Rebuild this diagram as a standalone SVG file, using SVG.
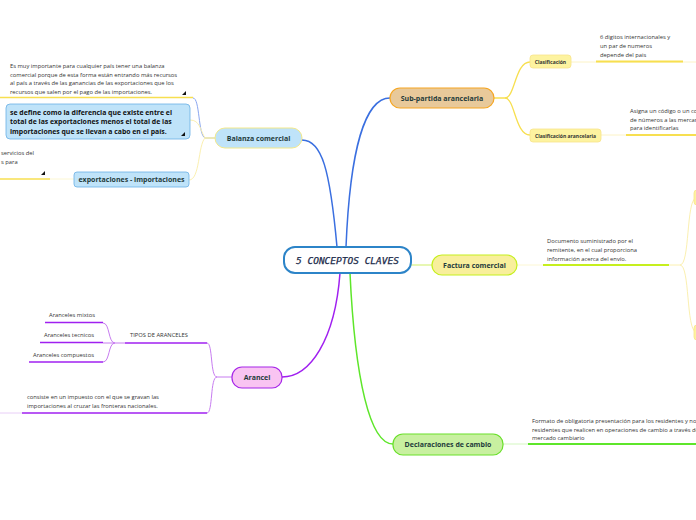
<svg xmlns="http://www.w3.org/2000/svg" width="696" height="520" viewBox="0 0 696 520">
<defs>
<style>
.sm{font-family:"Open Sans","Noto Sans",sans-serif;font-size:5.8px;fill:#333}
.lbl{font-family:"Open Sans","Noto Sans",sans-serif;font-size:7px;font-weight:bold;fill:#1f3b3b;text-anchor:middle}
.lbls{font-family:"Open Sans","Noto Sans",sans-serif;font-size:5px;font-weight:bold;fill:#333;text-anchor:middle}
.bx{font-family:"Open Sans","Noto Sans",sans-serif;font-size:6.9px;font-weight:bold;fill:#111}
.c{fill:none}
.tri{fill:#111}
</style>
</defs>
<rect width="696" height="520" fill="#fff"/>
<g id="connectors" class="c">
<path d="M346,247 C350,150 365,98 390,98" stroke="#3a6fe0" stroke-width="1.5"/>
<path d="M337,247 C330,170 322,140 302,140" stroke="#3a6fe0" stroke-width="1.5"/>
<path d="M411,265 L432,265" stroke="#dff59a" stroke-width="1.5"/>
<path d="M340,273 C335,340 310,377 282,377" stroke="#a020f0" stroke-width="1.5"/>
<path d="M350,273 C355,380 370,444 393,444" stroke="#5ee62a" stroke-width="1.5"/>
<path d="M494,98 L505,98 C515,98 515,62 530,62" stroke="#f7df50" stroke-width="1.3"/>
<path d="M505,98 C515,98 515,135 530,135" stroke="#f7df50" stroke-width="1.3"/>
<path d="M571,62 L696,62" stroke="#fbf0b8" stroke-width="0.8"/>
<path d="M596,61.5 L683,61.5" stroke="#f7df50" stroke-width="1.8"/>
<path d="M601,135 L696,135" stroke="#fbf0b8" stroke-width="0.8"/>
<path d="M626,135 L696,135" stroke="#f7df50" stroke-width="1.8"/>
<path d="M517,265 L543,265" stroke="#fbf5c8" stroke-width="0.8"/>
<path d="M543,265 L669,265" stroke="#c6ef1e" stroke-width="1.8"/>
<path d="M669,265 L680,265 C690,265 686,200 696,198" stroke="#fbf0b0" stroke-width="1"/>
<path d="M680,265 C690,265 686,330 696,332" stroke="#fbf0b0" stroke-width="1"/>
<path d="M215,138 L205,138" stroke="#e6e0a0" stroke-width="1.5"/>
<path d="M205,138 C198,135 200,98 193,98" stroke="#8aa6f0" stroke-width="1"/>
<path d="M0,97.5 L193,97.5" stroke="#f7df50" stroke-width="1.6"/>
<path d="M205,138 C200,130 200,120 190,120" stroke="#fbf0b0" stroke-width="1"/>
<path d="M205,138 C198,145 200,180 189,180" stroke="#fbf0b0" stroke-width="1"/>
<path d="M74,179 L50,179" stroke="#fbf5c8" stroke-width="0.8"/>
<path d="M0,179 L50,179" stroke="#f7df50" stroke-width="1.6"/>
<path d="M232,377 L217,377" stroke="#c77cf0" stroke-width="1"/>
<path d="M217,377 C210,377 213,343 207,343" stroke="#c77cf0" stroke-width="1"/>
<path d="M217,377 C210,377 213,413 207,413" stroke="#c77cf0" stroke-width="1"/>
<path d="M125,343 L207,343" stroke="#a020f0" stroke-width="1.6"/>
<path d="M22,413 L207,413" stroke="#a020f0" stroke-width="1.6"/>
<path d="M0,413 L22,413" stroke="#e2c2f5" stroke-width="0.8"/>
<path d="M125,343 L115,343" stroke="#c77cf0" stroke-width="1"/>
<path d="M115,343 C108,343 110,323 103,323" stroke="#c77cf0" stroke-width="1"/>
<path d="M115,343 L103,343" stroke="#c77cf0" stroke-width="1"/>
<path d="M115,343 C108,343 110,362 103,362" stroke="#c77cf0" stroke-width="1"/>
<path d="M45,322.5 L103,322.5" stroke="#a020f0" stroke-width="1.6"/>
<path d="M40,342.5 L103,342.5" stroke="#a020f0" stroke-width="1.6"/>
<path d="M29,362 L103,362" stroke="#a020f0" stroke-width="1.6"/>
<path d="M503,444 L528,444" stroke="#c8f5b0" stroke-width="0.8"/>
<path d="M528,444 L696,444" stroke="#5ee62a" stroke-width="1.8"/>
</g>

<g id="center">
<rect x="284" y="247" width="127" height="26" rx="11" fill="#fff" stroke="#2c84c8" stroke-width="2"/>
<text x="347.5" y="264" text-anchor="middle" font-family="'DejaVu Sans Mono',monospace" font-style="italic" font-size="9.5" fill="#1a2a4a" stroke="#1a2a4a" stroke-width="0.25">5 CONCEPTOS CLAVES</text>
</g>

<g id="subpartida">
<rect x="390" y="88" width="104" height="20" rx="10" fill="#e8c99a" stroke="#f5a623" stroke-width="1.2"/>
<text class="lbl" x="442" y="100.5">Sub-partida arancelaria</text>
</g>
<g id="clasificacion">
<rect x="530" y="55" width="41" height="13" rx="3" fill="#fdf3a0" stroke="#f7e38a" stroke-width="0.8"/>
<text class="lbls" x="550.5" y="63.8">Clasificación</text>
</g>
<g id="clasificacion-text">
<text class="sm" x="600" y="39">6 digitos internacionales y</text>
<text class="sm" x="600" y="48">un par de numeros</text>
<text class="sm" x="600" y="56.5">depende del pais</text>
</g>
<g id="clasif-arancelaria">
<rect x="530" y="129" width="71" height="13" rx="3" fill="#fdf3a0" stroke="#f7e38a" stroke-width="0.8"/>
<text class="lbls" x="565.5" y="137.8">Clasificación arancelaria</text>
</g>
<g id="clasif-arancelaria-text">
<text class="sm" x="630" y="113">Asigna un código o un conjunto</text>
<text class="sm" x="630" y="121.5">de números a las mercancías</text>
<text class="sm" x="630" y="130">para identificarlas</text>
</g>

<g id="balanza">
<rect x="215" y="128" width="87" height="20" rx="10" fill="#bfe3f9" stroke="#f2e88a" stroke-width="1"/>
<text class="lbl" x="258.5" y="140.5">Balanza comercial</text>
</g>
<g id="balanza-nota">
<text class="sm" x="10" y="68">Es muy importante para cualquier país tener una balanza</text>
<text class="sm" x="10" y="76.5">comercial porque de esta forma están entrando más recursos</text>
<text class="sm" x="10" y="85">al país a través de las ganancias de las exportaciones que los</text>
<text class="sm" x="10" y="94">recursos que salen por el pago de las importaciones.</text>
<path class="tri" d="M186,91 L186,95 L182,95 Z"/>
</g>
<g id="balanza-definicion">
<rect x="6" y="104" width="184" height="35" rx="4" fill="#bfe3f9" stroke="#6ab0e6" stroke-width="0.8"/>
<text class="bx" x="10" y="114.5">se define como la diferencia que existe entre el</text>
<text class="bx" x="10" y="124">total de las exportaciones menos el total de las</text>
<text class="bx" x="10" y="133.5">importaciones que se llevan a cabo en el país.</text>
<path class="tri" d="M185,132 L185,136 L181,136 Z"/>
</g>
<g id="export-import">
<rect x="74" y="172" width="115" height="15" rx="3" fill="#bfe3f9" stroke="#6ab0e6" stroke-width="0.8"/>
<text class="lbl" x="131.5" y="182" font-size="6.8">exportaciones - importaciones</text>
</g>
<g id="export-nota">
<text class="sm" x="1" y="155">servicios del</text>
<text class="sm" x="1" y="164">s para</text>
<path class="tri" d="M45,171 L45,175 L41,175 Z"/>
</g>

<g id="factura">
<rect x="432" y="255" width="85" height="20" rx="10" fill="#f8ef9c" stroke="#c6ef1e" stroke-width="1.2"/>
<text class="lbl" x="474.5" y="267.5">Factura comercial</text>
</g>
<g id="factura-text">
<text class="sm" x="547" y="243">Documento suministrado por el</text>
<text class="sm" x="547" y="252">remitente, en el cual proporciona</text>
<text class="sm" x="547" y="260.5">información acerca del envío.</text>
</g>
<g id="factura-n1"><rect x="694" y="190" width="10" height="15" rx="3" fill="#fdf3a0" stroke="#f7e38a" stroke-width="0.8"/></g>
<g id="factura-n2"><rect x="694" y="325" width="10" height="15" rx="3" fill="#fdf3a0" stroke="#f7e38a" stroke-width="0.8"/></g>

<g id="arancel">
<rect x="232" y="367" width="50" height="21" rx="10" fill="#f9c4f2" stroke="#a626e8" stroke-width="1.2"/>
<text class="lbl" x="257" y="380">Arancel</text>
</g>
<g id="tipos">
<text class="sm" x="130" y="337" font-size="7.2">TIPOS DE ARANCELES</text>
</g>
<g id="mixtos"><text class="sm" x="49" y="317">Aranceles mixtos</text></g>
<g id="tecnicos"><text class="sm" x="44" y="337">Aranceles tecnicos</text></g>
<g id="compuestos"><text class="sm" x="33" y="356.5">Aranceles compuestos</text></g>
<g id="arancel-def">
<text class="sm" x="27" y="399">consiste en un impuesto con el que se gravan las</text>
<text class="sm" x="27" y="408">importaciones al cruzar las fronteras nacionales.</text>
</g>

<g id="declaraciones">
<rect x="393" y="434" width="110" height="21" rx="10" fill="#c8f0a0" stroke="#6ae02a" stroke-width="1.2"/>
<text class="lbl" x="448" y="447">Declaraciones de cambio</text>
</g>
<g id="declaraciones-text">
<text class="sm" x="532" y="423">Formato de obligatoria presentación para los residentes y no</text>
<text class="sm" x="532" y="431.5">residentes que realicen en operaciones de cambio a través del</text>
<text class="sm" x="532" y="440">mercado cambiario</text>
</g>
</svg>
